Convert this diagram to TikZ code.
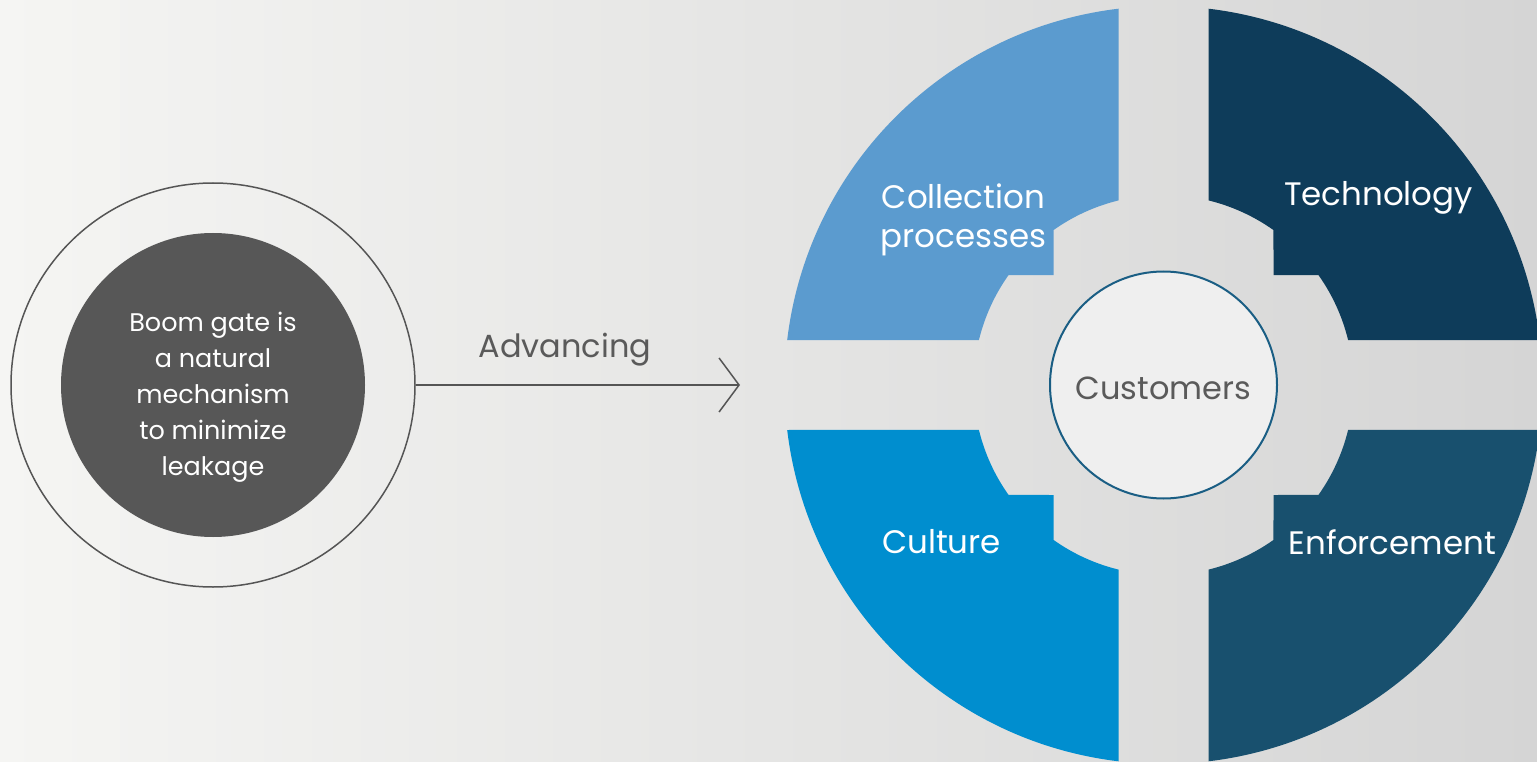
\documentclass[tikz,border=0pt]{standalone}
\usepackage{fontspec}
\setmainfont{Poppins}
\usepackage{tikz}
\usetikzlibrary{calc,positioning,arrows.meta}

\definecolor{bgleft}{HTML}{F5F5F3}
\definecolor{bgmid}{HTML}{EAEAE8}
\definecolor{bgright}{HTML}{D5D5D5}
\definecolor{gatering}{HTML}{555555}
\definecolor{gatedark}{HTML}{575757}
\definecolor{hubfill}{HTML}{EFEFEF}
\definecolor{hubline}{HTML}{1A5E84}
\definecolor{hubtext}{HTML}{5A5A5A}
\definecolor{collect}{HTML}{5B9BCF}
\definecolor{techno}{HTML}{0E3C5A}
\definecolor{culture}{HTML}{008ECF}
\definecolor{enforce}{HTML}{18506E}

\begin{document}
\begin{tikzpicture}[x=1pt,y=-1pt,thick,
                    main node/.style={circle,draw=gatering,line width=1.5pt,minimum size=404pt,inner sep=0pt},
                    gate node/.style={circle,fill=gatedark,minimum size=304pt,inner sep=0pt},
                    gate text/.style={text=white,align=center,inner sep=0pt,font=\fontsize{25.5}{36}\selectfont},
                    hub node/.style={circle,draw=hubline,line width=2pt,fill=hubfill,minimum size=227pt,
                                     inner sep=0pt,text height=29pt,text depth=0pt,text=hubtext,
                                     font=\fontsize{32}{36}\selectfont},
                    seg label/.style={text=white,align=center,inner sep=0pt,font=\fontsize{32.5}{39}\selectfont}]

    \useasboundingbox (0,0) rectangle (1537,762);
    \shade[left color=bgleft,middle color=bgmid,right color=bgright] (0,0) rectangle (1537,762);

    \node[main node] (1) at (213,385) {};
    \node[gate node] (2) at (1) {};
    \node[gate text] (3) at ($(2)+(0,12)$) {Boom gate is\\a natural\\mechanism\\to minimize\\leakage};
    \node[hub node] (4) at (1163.5,385) {Customers};
    \coordinate (5) at (740,385);

    % the four pieces of the ring
    \foreach \sx/\sy/\col in {-1/-1/collect, 1/-1/techno, -1/1/culture, 1/1/enforce}
      \fill[\col,shift={(4.center)},xscale=\sx,yscale=\sy]
        (83.18:379) arc[start angle=83.18,end angle=6.82,radius=379] -- (13.70:190)
        arc[start angle=13.70,end angle=35.37,radius=190] -- (110,110) -- (54.63:190)
        arc[start angle=54.63,end angle=76.30,radius=190] -- cycle;

    \node[seg label] (6) at ($(4)+(-200,-165)$) {Collection\\processes};
    \node[seg label] (7) at ($(4)+(215,-187)$) {Technology};
    \node[seg label] (8) at ($(4)+(-222,157)$) {Culture};
    \node[seg label] (9) at ($(4)+(229,157)$) {Enforcement};

    \path[draw=gatering,line width=1.5pt,-{Straight Barb[length=20pt,width=54pt]}]
      (1) edge node[pos=0.46,above=18pt,inner sep=0pt,text=hubtext,font=\fontsize{32}{36}\selectfont] {Advancing} (5);
\end{tikzpicture}
\end{document}
